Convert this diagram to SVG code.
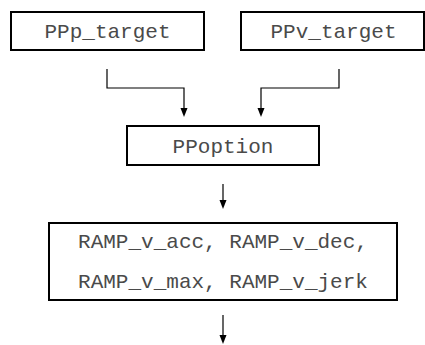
<svg xmlns="http://www.w3.org/2000/svg" width="425" height="345" viewBox="0 0 425 345">
<style>
.box{fill:#fff;stroke:#000;stroke-width:2}
.t{font-family:"Liberation Mono","Courier New",monospace;font-size:21px;fill:#4a4a4a;text-anchor:middle}
.c{fill:none;stroke:#000;stroke-width:1.2}
</style>
<g id="n1"><rect class="box" x="11" y="12" width="193" height="38"/><text class="t" x="107.5" y="38">PPp_target</text></g>
<g id="n2"><rect class="box" x="241" y="12" width="183" height="38"/><text class="t" x="333.5" y="38">PPv_target</text></g>
<g id="n3"><rect class="box" x="127" y="126" width="192" height="39"/><text class="t" x="223" y="153">PPoption</text></g>
<g id="n4"><rect class="box" x="49" y="223" width="348" height="77"/><text class="t" x="223" y="248">RAMP_v_acc, RAMP_v_dec,</text><text class="t" x="223" y="288">RAMP_v_max, RAMP_v_jerk</text></g>
<g id="connectors">
<path class="c" d="M107,69 V88 H184 V108"/>
<path d="M180.5,108 L187.5,108 L184,117 Z"/>
<path class="c" d="M339,69 V88 H261 V108"/>
<path d="M257.5,108 L264.5,108 L261,117 Z"/>
<path class="c" d="M223,184 V200"/>
<path d="M219.5,200 L226.5,200 L223,209 Z"/>
<path class="c" d="M223,315 V335"/>
<path d="M219.5,335 L226.5,335 L223,344 Z"/>
</g>
</svg>
